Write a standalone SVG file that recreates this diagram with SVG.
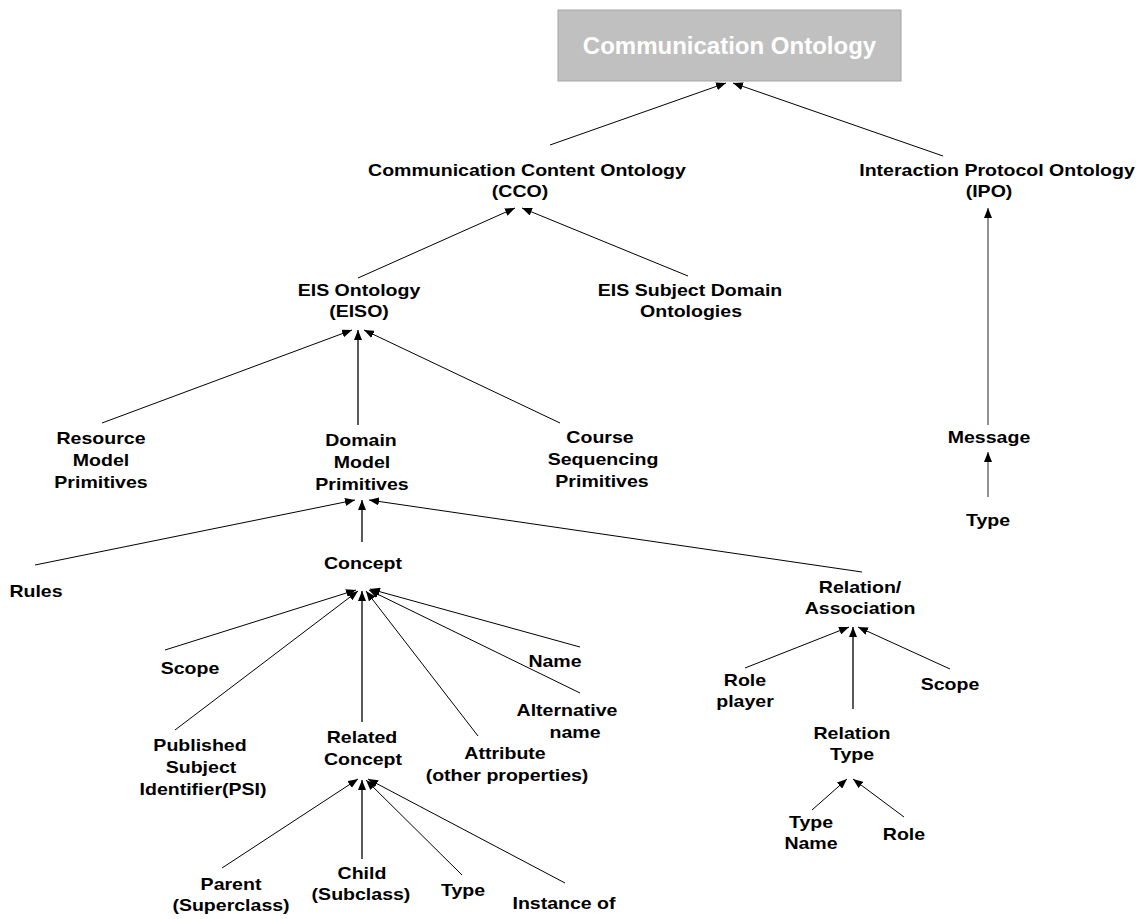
<svg xmlns="http://www.w3.org/2000/svg" width="1136" height="919" viewBox="0 0 1136 919">
  <style>
    .t { font-family: "Liberation Sans", Arial, sans-serif; font-weight: bold; font-size: 17.3px; fill: #000; text-anchor: middle; }
    .title { font-family: "Liberation Sans", Arial, sans-serif; font-weight: bold; font-size: 24px; fill: #fff; text-anchor: middle; }
    .c { stroke: #000; stroke-width: 1; fill: none; marker-end: url(#arr); }
    .v { stroke: #000; stroke-width: 1.3; fill: none; marker-end: url(#arr); }
    .g { stroke: #777; stroke-width: 1.6; fill: none; marker-end: url(#arr); }
  </style>
  <defs>
    <marker id="arr" markerWidth="10" markerHeight="8" refX="10" refY="4" orient="auto" markerUnits="userSpaceOnUse">
      <path d="M0,0 L10,4 L0,8 Z" fill="#000"/>
    </marker>
  </defs>
  <rect width="1136" height="919" fill="#fff"/>

  <!-- connectors: child to parent, arrowhead at the parent end -->
  <g id="connectors">
    <path class="c" d="M550,145 L726,83"/>
    <path class="c" d="M943,156 L733,83"/>
    <path class="c" d="M358,278 L515,208"/>
    <path class="c" d="M688,276 L522,208"/>
    <path class="c" d="M102,423 L352,330"/>
    <path class="v" d="M358,425 L358,330"/>
    <path class="c" d="M560,423 L364,330"/>
    <path class="c" d="M35,565 L355,500"/>
    <path class="v" d="M362,542 L362,500"/>
    <path class="c" d="M862,572 L369,500"/>
    <path class="c" d="M165,650 L356,590"/>
    <path class="c" d="M175,730 L358,591"/>
    <path class="v" d="M362,722 L362,591"/>
    <path class="c" d="M478,736 L366,591"/>
    <path class="c" d="M580,693 L369,590"/>
    <path class="c" d="M580,647 L370,589"/>
    <path class="c" d="M222,868 L358,779"/>
    <path class="v" d="M362,859 L362,780"/>
    <path class="c" d="M462,875 L366,780"/>
    <path class="c" d="M565,883 L368,779"/>
    <path class="c" d="M745,668 L849,627"/>
    <path class="v" d="M853,709 L853,627"/>
    <path class="c" d="M950,669 L858,627"/>
    <path class="c" d="M812,810 L847,779"/>
    <path class="c" d="M904,817 L853,779"/>
    <path class="g" d="M988,425 L988,208"/>
    <path class="g" d="M988,497 L988,452"/>
  </g>

  <g id="communication-ontology">
    <rect x="558" y="10" width="343" height="71" fill="#c0c0c0" stroke="#a6a6a6" stroke-width="1"/>
    <text class="title" x="729.5" y="54">Communication Ontology</text>
  </g>

  <g id="cco">
    <text class="t" transform="translate(527,176) scale(1.13,1)">Communication Content Ontology</text>
    <text class="t" transform="translate(520,197) scale(1.13,1)">(CCO)</text>
  </g>

  <g id="ipo">
    <text class="t" transform="translate(997,176) scale(1.13,1)">Interaction Protocol Ontology</text>
    <text class="t" transform="translate(989,197) scale(1.13,1)">(IPO)</text>
  </g>

  <g id="eiso">
    <text class="t" transform="translate(359,296) scale(1.13,1)">EIS Ontology</text>
    <text class="t" transform="translate(359,317) scale(1.13,1)">(EISO)</text>
  </g>

  <g id="eis-subject-domain">
    <text class="t" transform="translate(690,296) scale(1.13,1)">EIS Subject Domain</text>
    <text class="t" transform="translate(691,317) scale(1.13,1)">Ontologies</text>
  </g>

  <g id="resource-model">
    <text class="t" transform="translate(101,444) scale(1.13,1)">Resource</text>
    <text class="t" transform="translate(101,466) scale(1.13,1)">Model</text>
    <text class="t" transform="translate(101,488) scale(1.13,1)">Primitives</text>
  </g>

  <g id="domain-model">
    <text class="t" transform="translate(361,446) scale(1.13,1)">Domain</text>
    <text class="t" transform="translate(362,468) scale(1.13,1)">Model</text>
    <text class="t" transform="translate(362,490) scale(1.13,1)">Primitives</text>
  </g>

  <g id="course-sequencing">
    <text class="t" transform="translate(600,443) scale(1.13,1)">Course</text>
    <text class="t" transform="translate(603,465) scale(1.13,1)">Sequencing</text>
    <text class="t" transform="translate(602,487) scale(1.13,1)">Primitives</text>
  </g>

  <g id="rules">
    <text class="t" transform="translate(36,597) scale(1.13,1)">Rules</text>
  </g>

  <g id="concept">
    <text class="t" transform="translate(363,569) scale(1.13,1)">Concept</text>
  </g>

  <g id="concept-scope">
    <text class="t" transform="translate(190,674) scale(1.13,1)">Scope</text>
  </g>

  <g id="name">
    <text class="t" transform="translate(555,667) scale(1.13,1)">Name</text>
  </g>

  <g id="alternative-name">
    <text class="t" transform="translate(567,716) scale(1.13,1)">Alternative</text>
    <text class="t" transform="translate(575,738) scale(1.13,1)">name</text>
  </g>

  <g id="psi">
    <text class="t" transform="translate(200,751) scale(1.13,1)">Published</text>
    <text class="t" transform="translate(201,773) scale(1.13,1)">Subject</text>
    <text class="t" transform="translate(203,795) scale(1.13,1)">Identifier(PSI)</text>
  </g>

  <g id="related-concept">
    <text class="t" transform="translate(362,743) scale(1.13,1)">Related</text>
    <text class="t" transform="translate(363,765) scale(1.13,1)">Concept</text>
  </g>

  <g id="attribute">
    <text class="t" transform="translate(505,759) scale(1.13,1)">Attribute</text>
    <text class="t" transform="translate(507,781) scale(1.13,1)">(other properties)</text>
  </g>

  <g id="parent">
    <text class="t" transform="translate(231,890) scale(1.13,1)">Parent</text>
    <text class="t" transform="translate(231,911) scale(1.13,1)">(Superclass)</text>
  </g>

  <g id="child">
    <text class="t" transform="translate(362,879) scale(1.13,1)">Child</text>
    <text class="t" transform="translate(361,900) scale(1.13,1)">(Subclass)</text>
  </g>

  <g id="concept-type">
    <text class="t" transform="translate(463,896) scale(1.13,1)">Type</text>
  </g>

  <g id="instance-of">
    <text class="t" transform="translate(564,909) scale(1.13,1)">Instance of</text>
  </g>

  <g id="relation-association">
    <text class="t" transform="translate(860,593) scale(1.13,1)">Relation/</text>
    <text class="t" transform="translate(860,614) scale(1.13,1)">Association</text>
  </g>

  <g id="role-player">
    <text class="t" transform="translate(745,686) scale(1.13,1)">Role</text>
    <text class="t" transform="translate(745,707) scale(1.13,1)">player</text>
  </g>

  <g id="relation-scope">
    <text class="t" transform="translate(950,690) scale(1.13,1)">Scope</text>
  </g>

  <g id="relation-type">
    <text class="t" transform="translate(852,739) scale(1.13,1)">Relation</text>
    <text class="t" transform="translate(852,760) scale(1.13,1)">Type</text>
  </g>

  <g id="type-name">
    <text class="t" transform="translate(811,828) scale(1.13,1)">Type</text>
    <text class="t" transform="translate(811,849) scale(1.13,1)">Name</text>
  </g>

  <g id="role">
    <text class="t" transform="translate(904,840) scale(1.13,1)">Role</text>
  </g>

  <g id="message">
    <text class="t" transform="translate(989,443) scale(1.13,1)">Message</text>
  </g>

  <g id="message-type">
    <text class="t" transform="translate(988,526) scale(1.13,1)">Type</text>
  </g>
</svg>
